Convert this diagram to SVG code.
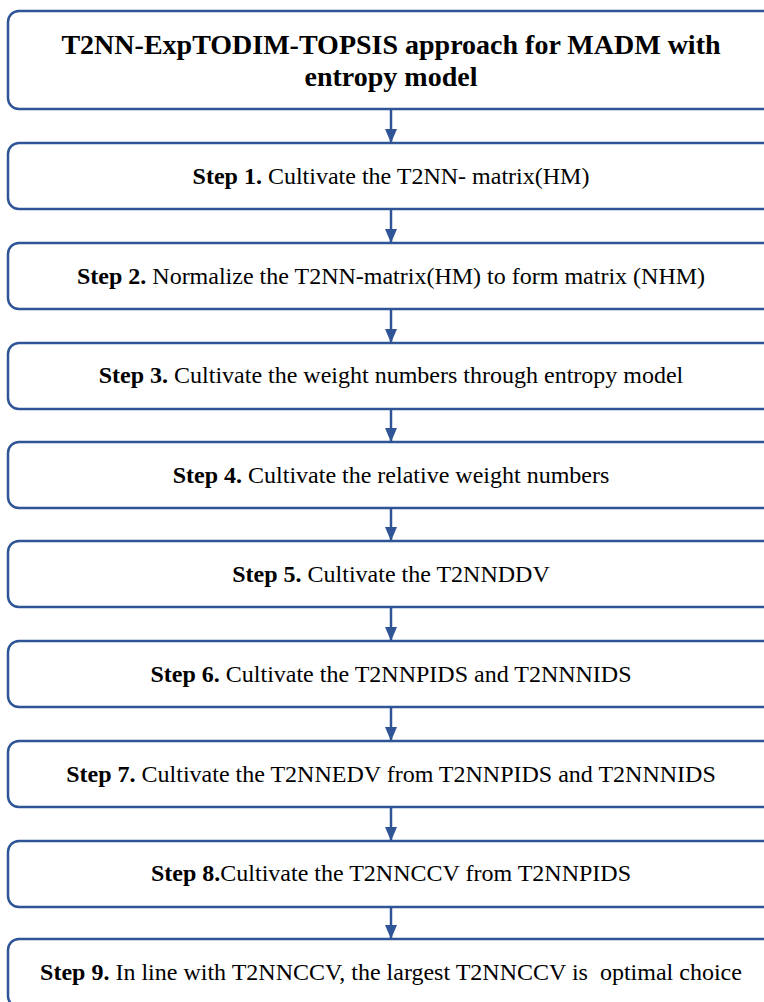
<svg xmlns="http://www.w3.org/2000/svg" width="764" height="1002" viewBox="0 0 764 1002">
<style>
.box{fill:#fff;stroke:#2F5597;stroke-width:2.5}
text{fill:#000;text-anchor:middle}
.t{font-size:24px;white-space:pre}
.title{font-size:28px;font-weight:bold}
.b{font-weight:bold}
.conn{stroke:#2F5597;stroke-width:2.5;fill:none;marker-end:url(#ah)}
</style>
<defs>
<marker id="ah" markerWidth="14" markerHeight="12" refX="14" refY="6" orient="auto" markerUnits="userSpaceOnUse">
<path d="M0,0 L14,6 L0,12 Z" fill="#2F5597"/>
</marker>
</defs>
<rect width="764" height="1002" fill="#fff"/>
<g id="connectors">
<line class="conn" x1="391" y1="109" x2="391" y2="143"/>
<line class="conn" x1="391" y1="209" x2="391" y2="243"/>
<line class="conn" x1="391" y1="309" x2="391" y2="343"/>
<line class="conn" x1="391" y1="409" x2="391" y2="442"/>
<line class="conn" x1="391" y1="508" x2="391" y2="541"/>
<line class="conn" x1="391" y1="607" x2="391" y2="641"/>
<line class="conn" x1="391" y1="707" x2="391" y2="741"/>
<line class="conn" x1="391" y1="807" x2="391" y2="841"/>
<line class="conn" x1="391" y1="907" x2="391" y2="939"/>
</g>
<g font-family="'Liberation Serif', 'Times New Roman', 'DejaVu Serif', serif">
<g id="title">
<rect class="box" x="8" y="11" width="780" height="98" rx="11"/>
<text class="title" x="391" y="54">T2NN-ExpTODIM-TOPSIS approach for MADM with</text>
<text class="title" x="391" y="86">entropy model</text>
</g>
<g id="step1">
<rect class="box" x="8" y="143" width="780" height="66" rx="11"/>
<text class="t" x="391" y="184"><tspan class="b">Step 1.</tspan> Cultivate the T2NN- matrix(HM)</text>
</g>
<g id="step2">
<rect class="box" x="8" y="243" width="780" height="66" rx="11"/>
<text class="t" x="391" y="284"><tspan class="b">Step 2.</tspan> Normalize the T2NN-matrix(HM) to form matrix (NHM)</text>
</g>
<g id="step3">
<rect class="box" x="8" y="343" width="780" height="66" rx="11"/>
<text class="t" x="391" y="383"><tspan class="b">Step 3.</tspan> Cultivate the weight numbers through entropy model</text>
</g>
<g id="step4">
<rect class="box" x="8" y="442" width="780" height="66" rx="11"/>
<text class="t" x="391" y="483"><tspan class="b">Step 4.</tspan> Cultivate the relative weight numbers</text>
</g>
<g id="step5">
<rect class="box" x="8" y="541" width="780" height="66" rx="11"/>
<text class="t" x="391" y="582"><tspan class="b">Step 5.</tspan> Cultivate the T2NNDDV</text>
</g>
<g id="step6">
<rect class="box" x="8" y="641" width="780" height="66" rx="11"/>
<text class="t" x="391" y="682"><tspan class="b">Step 6.</tspan> Cultivate the T2NNPIDS and T2NNNIDS</text>
</g>
<g id="step7">
<rect class="box" x="8" y="741" width="780" height="66" rx="11"/>
<text class="t" x="391" y="782"><tspan class="b">Step 7.</tspan> Cultivate the T2NNEDV from T2NNPIDS and T2NNNIDS</text>
</g>
<g id="step8">
<rect class="box" x="8" y="841" width="780" height="66" rx="11"/>
<text class="t" x="391" y="881"><tspan class="b">Step 8.</tspan>Cultivate the T2NNCCV from T2NNPIDS</text>
</g>
<g id="step9">
<rect class="box" x="8" y="939" width="780" height="68" rx="11"/>
<text class="t" x="391" y="980"><tspan class="b">Step 9.</tspan> In line with T2NNCCV, the largest T2NNCCV is  optimal choice</text>
</g>
</g>
</svg>
